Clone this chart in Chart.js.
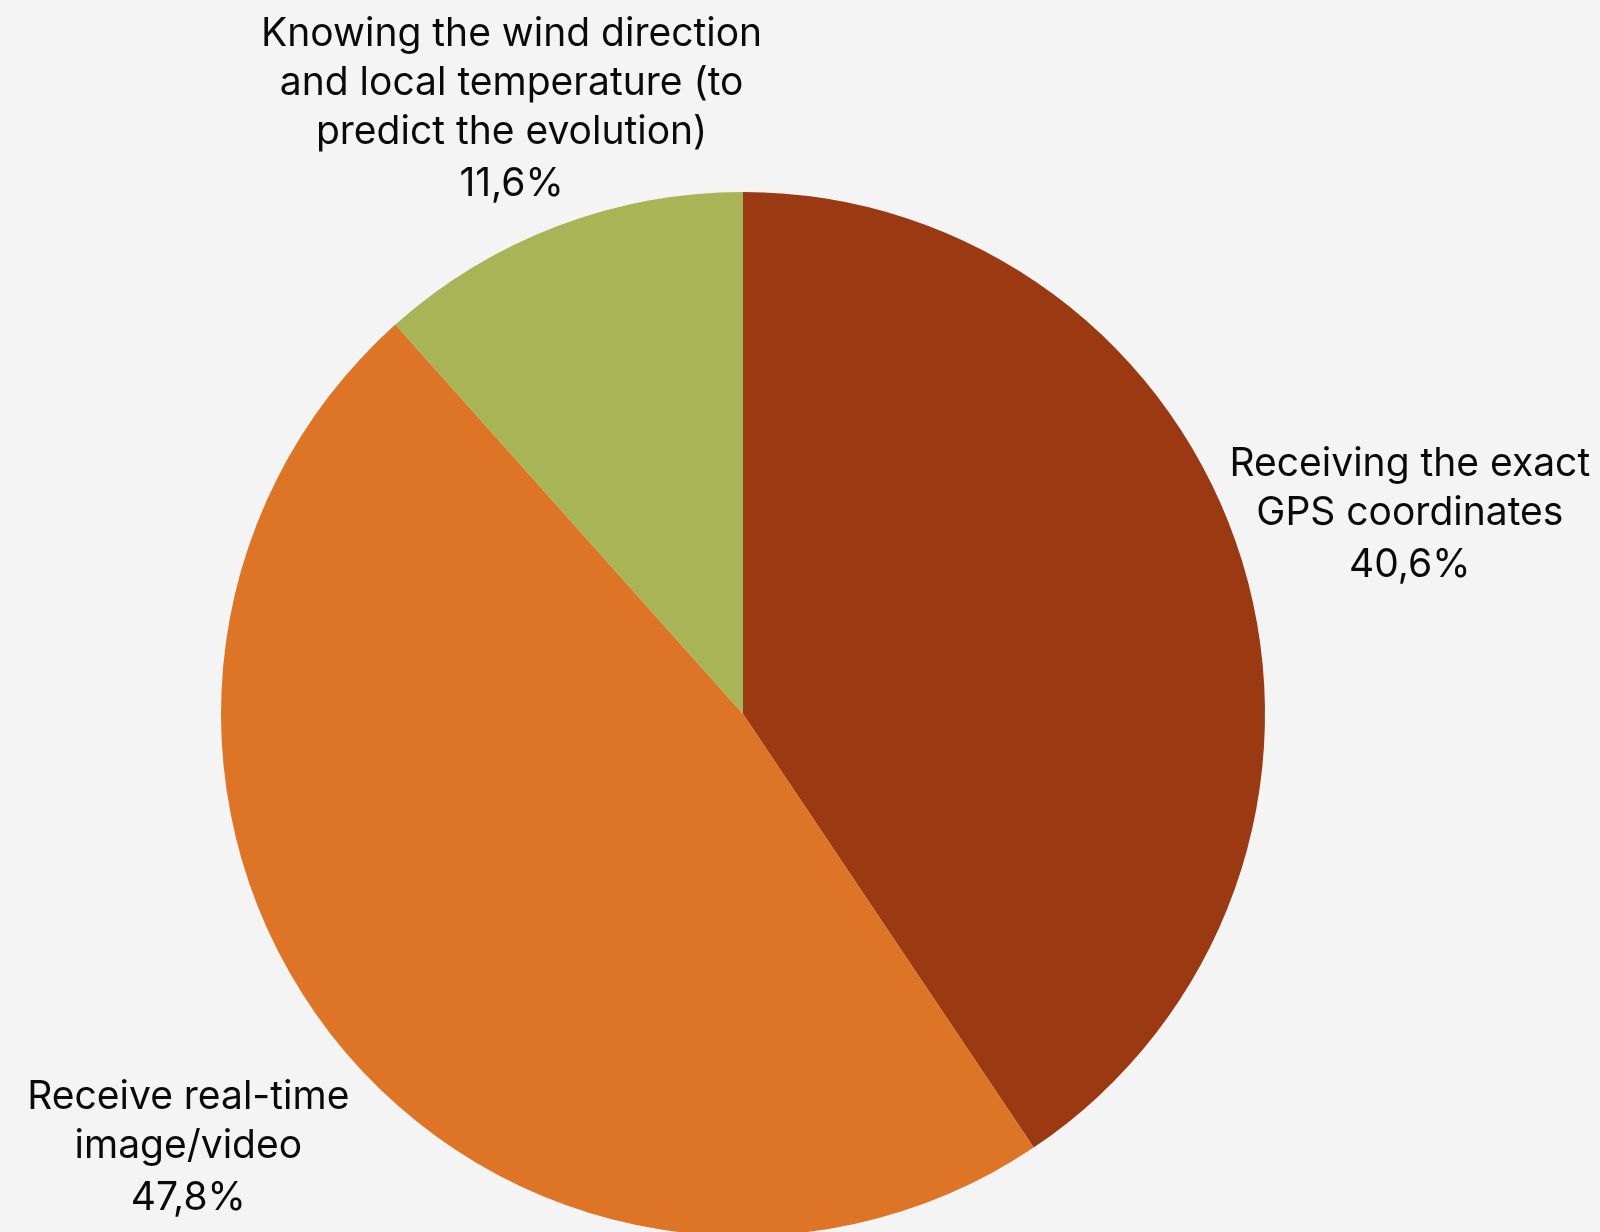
<!DOCTYPE html>
<html>
<head>
<meta charset="utf-8">
<script src="https://cdn.jsdelivr.net/npm/chart.js@4.4.1/dist/chart.umd.min.js"></script>
<style>
    html, body {
        margin: 0;
        padding: 0;
        background: #f4f4f4;
        overflow: hidden;
    }
    #wrap {
        width: 1600px;
        height: 1232px;
    }
</style>
</head>
<body>
<div id="wrap"><canvas id="needs_chart"></canvas></div>
<script>
// data
const categories = [
    ["Receiving the exact", "GPS coordinates"],
    ["Receive real-time", "image/video"],
    ["Knowing the wind direction", "and local temperature (to", "predict the evolution)"],
]
const shares = [40.6, 47.8, 11.6]
const sliceColors = ["#9b3912", "#de7426", "#a7b556"]

// distance of each label block from the pie centre, along the slice middle
const labelDistance = [697, 702, 652]
const labelShiftX = [0, 0, 1]

function formatShare(v) {
    return v.toFixed(1).replace(".", ",") + "%"
}

const outsideLabels = {
    id: "outsideLabels",
    afterDatasetsDraw(chart) {
        const ctx = chart.ctx
        const arcs = chart.getDatasetMeta(0).data
        ctx.save()
        ctx.font = "39px Inter"
        ctx.fillStyle = "#0a0a0a"
        ctx.textAlign = "center"
        ctx.textBaseline = "middle"
        arcs.forEach((arc, i) => {
            const mid = (arc.startAngle + arc.endAngle) / 2
            const cx = arc.x + Math.cos(mid) * labelDistance[i] + labelShiftX[i]
            const cy = arc.y + Math.sin(mid) * labelDistance[i]
            const lines = categories[i]
            const total = (lines.length - 1) * 49 + 52
            let y = cy - total / 2 + 4
            lines.forEach((line) => {
                ctx.fillText(line, cx, y)
                y += 49
            })
            ctx.fillText(formatShare(shares[i]), cx, y + 3)
        })
        ctx.restore()
    },
}

function main() {
    new Chart(document.getElementById("needs_chart"), {
        type: "pie",
        data: {
            labels: categories.map((c) => c.join(" ")),
            datasets: [
                {
                    data: shares,
                    backgroundColor: sliceColors,
                    borderWidth: 0,
                    clip: false,
                },
            ],
        },
        options: {
            responsive: true,
            maintainAspectRatio: false,
            animation: false,
            radius: 522,
            layout: {
                padding: { left: 221, right: 335, top: 196, bottom: 0 },
            },
            plugins: {
                legend: { display: false },
                tooltip: { enabled: false },
            },
        },
        plugins: [outsideLabels],
    })
}

document.addEventListener("DOMContentLoaded", main())
</script>
</body>
</html>
